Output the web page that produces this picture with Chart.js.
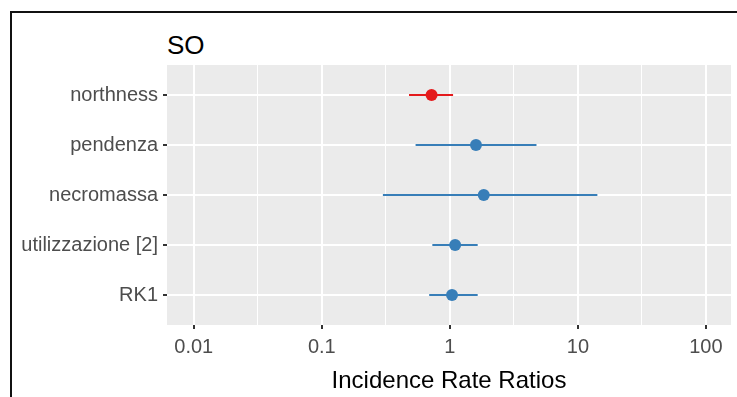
<!DOCTYPE html>
<html>
<head>
<meta charset="utf-8">
<script src="https://cdn.jsdelivr.net/npm/chart.js@4.4.0/dist/chart.umd.min.js"></script>
<style>
    html, body { margin: 0; padding: 0; background: #fff; }
    body { width: 737px; height: 397px; overflow: hidden; position: relative; font-family: "Liberation Sans", Arial, sans-serif; }
    .frame-line { position: absolute; background: #111; }
    #frame-top { left: 10px; top: 11px; width: 727px; height: 2px; }
    #frame-left { left: 10px; top: 11px; width: 2px; height: 386px; }
    #plot-title { position: absolute; left: 167px; top: 30px; font-size: 26px; line-height: 30px; color: #000; }
    #chart { position: absolute; left: 0; top: 0; }
</style>
</head>
<body>
<div class="frame-line" id="frame-top"></div>
<div class="frame-line" id="frame-left"></div>
<div id="plot-title">SO</div>
<canvas id="chart" width="737" height="397"></canvas>
<script>
// Data
const terms = ['northness', 'pendenza', 'necromassa', 'utilizzazione [2]', 'RK1'];
const estimates = [0.72, 1.60, 1.84, 1.10, 1.04];
const lowerCI = [0.48, 0.54, 0.30, 0.73, 0.69];
const upperCI = [1.06, 4.75, 14.2, 1.65, 1.65];
const termColors = ['#E41A1C', '#377EB8', '#377EB8', '#377EB8', '#377EB8'];

const xTickValues = [0.01, 0.1, 1, 10, 100];
const xTickLabels = ['0.01', '0.1', '1', '10', '100'];
const xMinorValues = [0.0316, 0.316, 3.16, 31.6];

// Axis range (ggplot expansion)
const xMin = 0.00618;
const xMax = 157;

const isMajor = v => xTickValues.some(t => Math.abs(t - v) / t < 1e-6);

// Grey panel behind the grid
const panelBackground = {
    id: 'panelBackground',
    beforeDraw(chart) {
        const { ctx, chartArea } = chart;
        ctx.save();
        ctx.fillStyle = '#EBEBEB';
        ctx.fillRect(chartArea.left, chartArea.top, chartArea.right - chartArea.left, chartArea.bottom - chartArea.top);
        ctx.restore();
    }
};

// One line dataset per term for the confidence intervals
const ciDatasets = terms.map((term, i) => ({
    type: 'line',
    data: [{ x: lowerCI[i], y: i + 1 }, { x: upperCI[i], y: i + 1 }],
    borderColor: termColors[i],
    borderWidth: 2,
    pointRadius: 0,
    fill: false
}));

const pointDataset = {
    type: 'scatter',
    data: terms.map((term, i) => ({ x: estimates[i], y: i + 1 })),
    pointBackgroundColor: termColors,
    pointBorderColor: termColors,
    pointRadius: 6,
    pointBorderWidth: 0,
    showLine: false
};

const ctx = document.getElementById('chart').getContext('2d');
new Chart(ctx, {
    type: 'scatter',
    data: { datasets: [...ciDatasets, pointDataset] },
    options: {
        responsive: false,
        animation: false,
        layout: { padding: { top: 65, left: 0, right: 0, bottom: 0 } },
        plugins: {
            legend: { display: false },
            tooltip: { enabled: false }
        },
        scales: {
            x: {
                type: 'logarithmic',
                min: xMin,
                max: xMax,
                afterBuildTicks: scale => {
                    scale.ticks = [...xTickValues, ...xMinorValues].sort((a, b) => a - b).map(v => ({ value: v }));
                },
                afterFit: scale => { scale.height = 72; },
                border: { display: false },
                grid: {
                    color: '#FFFFFF',
                    lineWidth: c => isMajor(c.tick.value) ? 2 : 1,
                    tickColor: c => isMajor(c.tick.value) ? '#333333' : 'rgba(0,0,0,0)',
                    tickLength: 4
                },
                ticks: {
                    autoSkip: false,
                    maxRotation: 0,
                    minRotation: 0,
                    padding: 6,
                    color: '#4D4D4D',
                    font: { family: '"Liberation Sans", Arial, sans-serif', size: 20 },
                    callback: v => {
                        const idx = xTickValues.findIndex(t => Math.abs(t - v) / t < 1e-6);
                        return idx >= 0 ? xTickLabels[idx] : '';
                    }
                },
                title: {
                    display: true,
                    text: 'Incidence Rate Ratios',
                    color: '#000000',
                    font: { family: '"Liberation Sans", Arial, sans-serif', size: 24 },
                    padding: { top: 2, bottom: 1 }
                }
            },
            y: {
                type: 'linear',
                reverse: true,
                min: 0.4,
                max: 5.6,
                afterBuildTicks: scale => {
                    scale.ticks = terms.map((t, i) => ({ value: i + 1 }));
                },
                afterFit: scale => { scale.width = 167; },
                border: { display: false },
                grid: {
                    color: '#FFFFFF',
                    lineWidth: 2,
                    tickColor: '#333333',
                    tickLength: 4
                },
                ticks: {
                    autoSkip: false,
                    padding: 5,
                    color: '#4D4D4D',
                    font: { family: '"Liberation Sans", Arial, sans-serif', size: 20 },
                    callback: v => terms[v - 1]
                }
            }
        }
    },
    plugins: [panelBackground]
});
</script>
</body>
</html>
